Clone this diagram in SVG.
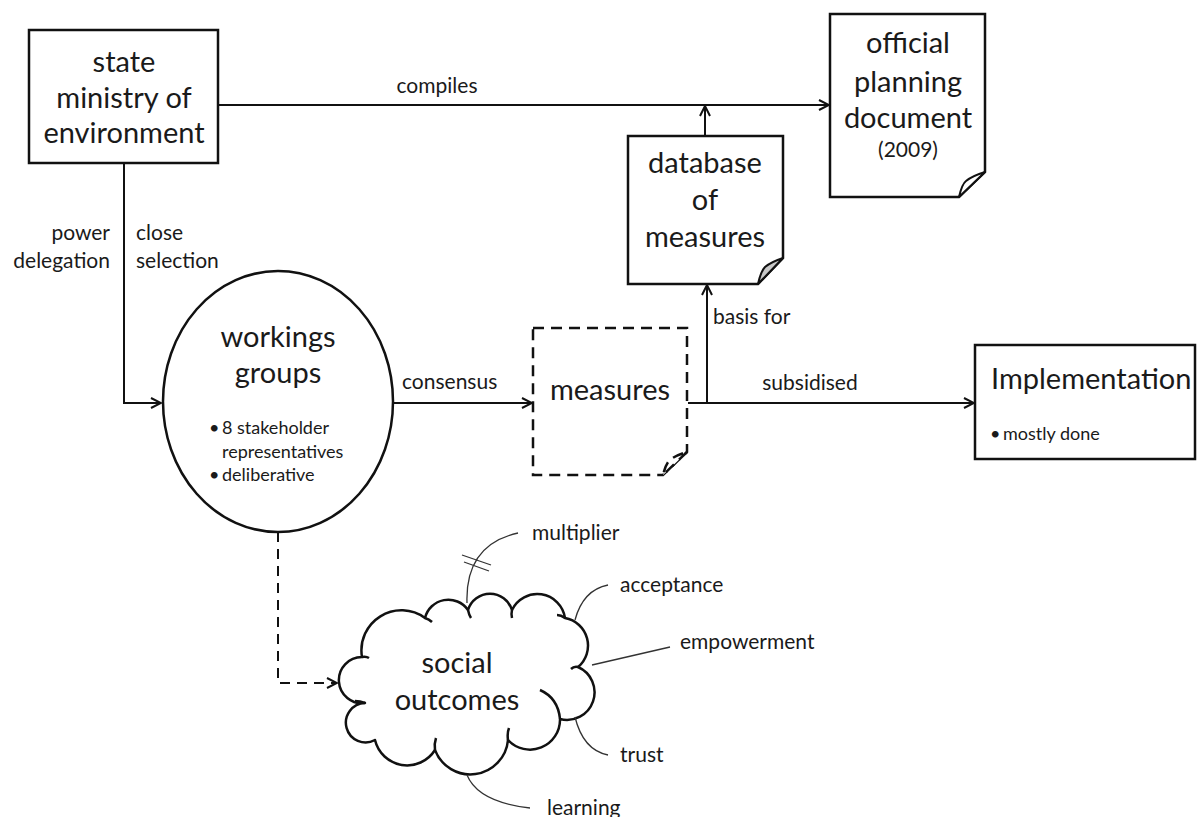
<svg xmlns="http://www.w3.org/2000/svg" width="1197" height="817" viewBox="0 0 1197 817">
  <defs>
    <marker id="arrow" viewBox="0 0 12 12" refX="11" refY="6" markerWidth="12" markerHeight="12" markerUnits="userSpaceOnUse" orient="auto">
      <path d="M1,1 L11,6 L1,11" fill="none" stroke="#111" stroke-width="2"/>
    </marker>
  </defs>
  <style>
    .box { fill: #fff; stroke: #111; stroke-width: 2.5; }
    .dash { fill: #fff; stroke: #111; stroke-width: 2.5; stroke-dasharray: 11 7; }
    .fold { fill: #fff; stroke: #111; stroke-width: 2; stroke-linejoin: round; }
    .fold-grey { fill: #c8c8c8; stroke: #111; stroke-width: 2; stroke-linejoin: round; }
    .edge { fill: none; stroke: #111; stroke-width: 2; }
    .hook { fill: none; stroke: #111; stroke-width: 2.5; }
    .edge-dash { fill: none; stroke: #111; stroke-width: 2; stroke-dasharray: 10 7; }
    .callout { fill: none; stroke: #333; stroke-width: 1.3; }
    .cloud { fill: #fff; stroke: #111; stroke-width: 2.5; stroke-linejoin: round; }
    text { font-family: Lato, "Liberation Sans", sans-serif; fill: #1a1a1a; }
    .big { font-size: 29px; text-anchor: middle; }
    .big-left { font-size: 29px; }
    .lbl { font-size: 21px; }
    .small { font-size: 18px; }
  </style>

  <!-- connectors -->
  <g id="connectors">
    <!-- compiles -->
    <path class="edge" d="M218,105 H829" marker-end="url(#arrow)"/>
    <!-- database feeds into the compiled document -->
    <path class="edge" d="M705,136 V106" marker-end="url(#arrow)"/>
    <!-- power delegation / close selection -->
    <path class="edge" d="M124,163 V403 H161" marker-end="url(#arrow)"/>
    <!-- consensus -->
    <path class="edge" d="M393,403 H532" marker-end="url(#arrow)"/>
    <!-- subsidised -->
    <path class="edge" d="M688,403 H974" marker-end="url(#arrow)"/>
    <!-- basis for -->
    <path class="edge" d="M707,403 V285" marker-end="url(#arrow)"/>
    <!-- social outcomes -->
    <path class="edge-dash" d="M278,532 V683 H337" marker-end="url(#arrow)"/>
    <text class="lbl" x="437" y="93" text-anchor="middle">compiles</text>
    <text class="lbl" x="110" y="240" text-anchor="end">power</text>
    <text class="lbl" x="110" y="268" text-anchor="end">delegation</text>
    <text class="lbl" x="136" y="240">close</text>
    <text class="lbl" x="136" y="268">selection</text>
    <text class="lbl" x="402" y="389">consensus</text>
    <text class="lbl" x="713" y="324">basis for</text>
    <text class="lbl" x="810" y="390" text-anchor="middle">subsidised</text>
  </g>

  <g id="ministry">
    <rect class="box" x="29" y="30" width="189" height="133"/>
    <text class="big" x="124" y="72">state</text>
    <text class="big" x="124" y="108">ministry of</text>
    <text class="big" x="124" y="143">environment</text>
  </g>

  <g id="planning-document">
    <path class="box" d="M830,14 H985 V172 L959,197 H830 Z"/>
    <path class="fold" d="M985,172 L959,197 Q962,184 966,181 Q972,176 985,172 Z"/>
    <text class="big" x="908" y="53">official</text>
    <text class="big" x="908" y="92">planning</text>
    <text class="big" x="908" y="128">document</text>
    <text class="lbl" x="908" y="157" text-anchor="middle">(2009)</text>
  </g>

  <g id="database">
    <path class="box" d="M628,136 H783 V258 L758,284 H628 Z"/>
    <path class="fold-grey" d="M783,258 L758,284 Q761,271 765,267 Q771,262 783,258 Z"/>
    <text class="big" x="705" y="173">database</text>
    <text class="big" x="705" y="210">of</text>
    <text class="big" x="705" y="247">measures</text>
  </g>

  <g id="working-groups">
    <ellipse class="box" cx="278" cy="401.5" rx="115" ry="130.5"/>
    <text class="big" x="278" y="347">workings</text>
    <text class="big" x="278" y="383">groups</text>
    <text class="small" x="209" y="434">•</text>
    <text class="small" x="222" y="434">8 stakeholder</text>
    <text class="small" x="222" y="458">representatives</text>
    <text class="small" x="209" y="481">•</text>
    <text class="small" x="222" y="481">deliberative</text>
  </g>

  <g id="measures">
    <path class="dash" d="M533,328 H687 V452 L663,475 H533 Z"/>
    <path class="dash" d="M687,452 L663,475 Q666,463 670,460 Q676,455 687,452"/>
    <text class="big" x="610" y="400">measures</text>
  </g>

  <g id="implementation">
    <rect class="box" x="975" y="345" width="220" height="114"/>
    <text class="big-left" x="991" y="389">Implementation</text>
    <text class="small" x="990" y="440">•</text>
    <text class="small" x="1003" y="440">mostly done</text>
  </g>

  <g id="social-outcomes">
    <path class="cloud" d="M362,657
      A40,40 0 0 1 425,618
      A24,24 0 0 1 468,610
      A23,23 0 0 1 512,610
      A28,28 0 0 1 565,618
      A28,28 0 0 1 578,667
      A27.6,27.6 0 0 1 560,719
      A30,30 0 0 1 508,740
      A37.8,37.8 0 0 1 435,750
      A33,33 0 0 1 375,740
      A19.7,19.7 0 1 1 365,703
      A23.1,23.1 0 1 1 362,657 Z"/>
    <!-- inner hooks of the cloud outline -->
    <path class="hook" d="M540,690 Q558,698 560,719"/>
    <path class="hook" d="M508,740 Q507,733 509,728"/>
    <path class="hook" d="M435,750 Q434,744 436,738"/>
    <path class="hook" d="M578,667 Q574,666 571,669"/>
    <path class="hook" d="M565,618 Q561,615 557,615"/>
    <path class="hook" d="M512,610 Q511,614 512,618"/>
    <path class="hook" d="M468,610 Q469,615 471,618"/>
    <path class="hook" d="M425,618 Q429,619 432,622"/>
    <path class="hook" d="M362,657 Q366,656 369,658"/>
    <path class="hook" d="M365,703 Q360,701 355,701"/>
    <text class="big" x="457" y="673">social</text>
    <text class="big" x="457" y="710">outcomes</text>

    <!-- outcome callouts -->
    <path class="callout" d="M467,603 Q465,545 518,533"/>
    <path class="callout" d="M462,555 L491,565 M464,562 L489,571"/>
    <text class="lbl" x="532" y="540">multiplier</text>
    <path class="callout" d="M575,620 Q583,590 608,585"/>
    <text class="lbl" x="620" y="592">acceptance</text>
    <path class="callout" d="M592,665 L670,647"/>
    <text class="lbl" x="680" y="649">empowerment</text>
    <path class="callout" d="M575,717 Q583,750 608,755"/>
    <text class="lbl" x="620" y="762">trust</text>
    <path class="callout" d="M467,775 Q478,802 530,808"/>
    <text class="lbl" x="547" y="815">learning</text>
  </g>
</svg>
